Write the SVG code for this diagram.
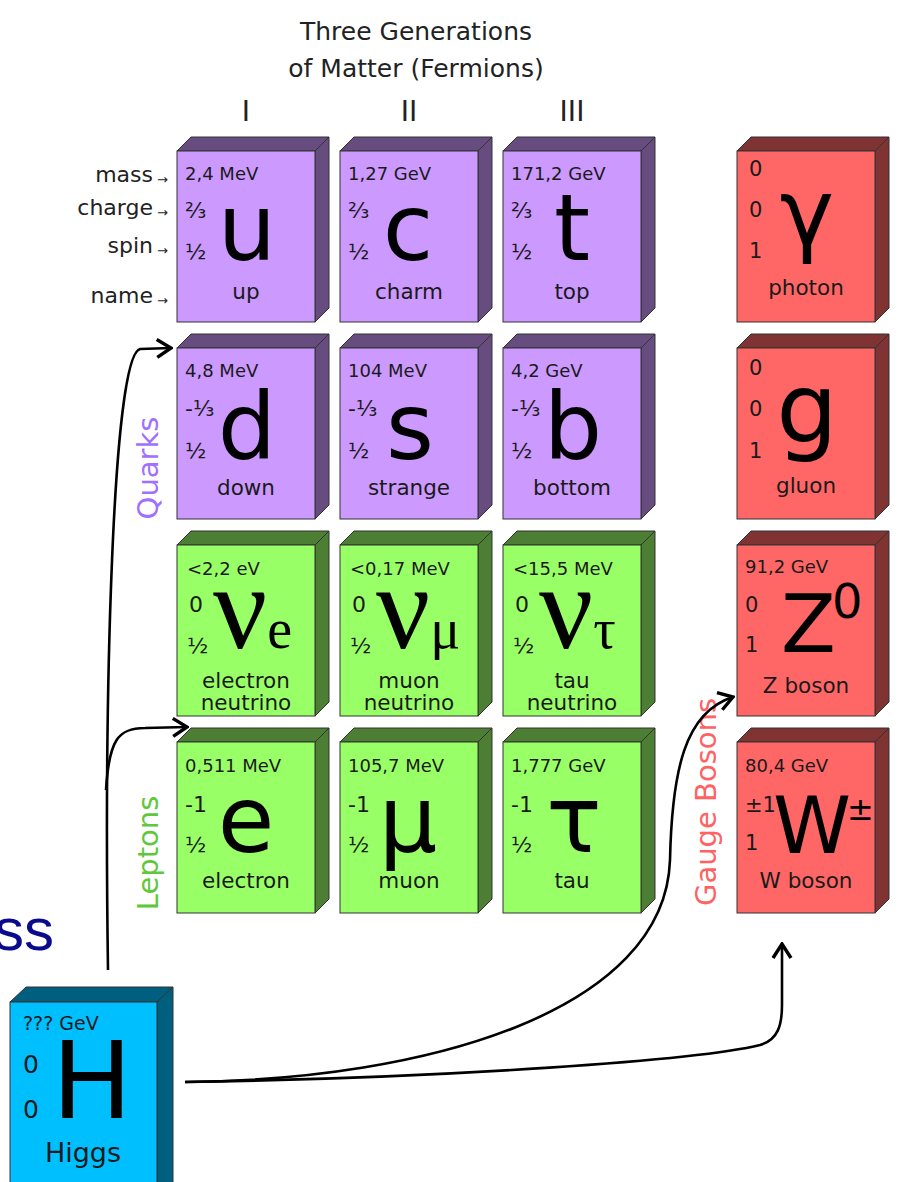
<svg xmlns="http://www.w3.org/2000/svg" width="903" height="1182" viewBox="0 0 903 1182">
<style>
text{font-family:"DejaVu Sans",sans-serif;fill:#1a1a1a}
.edge{stroke:#333;stroke-width:1}
.q use{fill:#CC99FF;color:#664C7F}
.l use{fill:#99FF66;color:#4C7F33}
.b use{fill:#FF6666;color:#7F3333}
.m{font-size:18px}
.c{font-size:22px}
.big{font-size:92px;text-anchor:middle;fill:#000}
.nm{font-size:21.5px;text-anchor:middle}
.nu{font-family:"Liberation Serif",serif;font-size:120px;fill:#000}
.sub{font-family:"Liberation Serif",serif;font-size:56px;fill:#000}
.bn{font-size:21px}
.hdr{font-size:25px;text-anchor:middle;fill:#222}
.rom{font-size:28px;text-anchor:middle;fill:#222}
.lab{font-size:22px;text-anchor:end;fill:#222}
.arw{font-size:13px;fill:#222}
.side{font-size:29px;text-anchor:middle}
.conn{fill:none;stroke:#000;stroke-width:2.6}
</style>
<defs>
<marker id="arr" viewBox="-18 -12 20 24" refX="0" refY="0" markerWidth="20" markerHeight="24" orient="auto" markerUnits="userSpaceOnUse">
<path d="M-14,-9 L0,0 L-14,9" fill="none" stroke="#000" stroke-width="3.4"/>
</marker>
<g id="box">
<polygon class="edge" fill="currentColor" points="0,0 14,-14 152,-14 138,0"/>
<polygon class="edge" fill="currentColor" points="138,0 152,-14 152,157 138,171"/>
<rect class="edge" x="0" y="0" width="138" height="171"/>
</g>
</defs>

<g id="headings">
<text class="hdr" x="416" y="40">Three Generations</text>
<text class="hdr" x="416" y="77">of Matter (Fermions)</text>
<text class="rom" x="246" y="121">I</text>
<text class="rom" x="409" y="121">II</text>
<text class="rom" x="572" y="121">III</text>
<text class="lab" x="153" y="182">mass</text><text class="arw" x="157" y="184">→</text>
<text class="lab" x="153" y="215">charge</text><text class="arw" x="157" y="217">→</text>
<text class="lab" x="153" y="253">spin</text><text class="arw" x="157" y="255">→</text>
<text class="lab" x="153" y="303">name</text><text class="arw" x="157" y="305">→</text>
<text class="side" transform="translate(158,468) rotate(-90)" style="fill:#A070FF">Quarks</text>
<text class="side" transform="translate(158,853) rotate(-90)" style="fill:#5EC83A">Leptons</text>
<text class="side" transform="translate(716,802) rotate(-90)" style="fill:#FF6262">Gauge Bosons</text>
<text x="54" y="950" style="font-family:'Liberation Sans',sans-serif;font-size:60px;fill:#0A0A8C;text-anchor:end">ss</text>
</g>

<g id="up" class="q" transform="translate(177,151)"><use href="#box"/>
<text class="m" x="8" y="29">2,4 MeV</text><text class="c" x="8" y="67">⅔</text><text class="c" x="8" y="108">½</text>
<text class="big" x="70" y="109">u</text><text class="nm" x="69" y="148">up</text></g>
<g id="charm" class="q" transform="translate(340,151)"><use href="#box"/>
<text class="m" x="8" y="29">1,27 GeV</text><text class="c" x="8" y="67">⅔</text><text class="c" x="8" y="108">½</text>
<text class="big" x="68" y="109">c</text><text class="nm" x="69" y="148">charm</text></g>
<g id="top" class="q" transform="translate(503,151)"><use href="#box"/>
<text class="m" x="8" y="29">171,2 GeV</text><text class="c" x="8" y="67">⅔</text><text class="c" x="8" y="108">½</text>
<text class="big" x="69" y="109">t</text><text class="nm" x="69" y="148">top</text></g>

<g id="down" class="q" transform="translate(177,348)"><use href="#box"/>
<text class="m" x="8" y="29">4,8 MeV</text><text class="c" x="8" y="68">-⅓</text><text class="c" x="8" y="110">½</text>
<text class="big" x="70" y="111">d</text><text class="nm" x="69" y="147">down</text></g>
<g id="strange" class="q" transform="translate(340,348)"><use href="#box"/>
<text class="m" x="8" y="29">104 MeV</text><text class="c" x="8" y="68">-⅓</text><text class="c" x="8" y="110">½</text>
<text class="big" x="70" y="111">s</text><text class="nm" x="69" y="147">strange</text></g>
<g id="bottom" class="q" transform="translate(503,348)"><use href="#box"/>
<text class="m" x="8" y="29">4,2 GeV</text><text class="c" x="8" y="68">-⅓</text><text class="c" x="8" y="110">½</text>
<text class="big" x="70" y="111">b</text><text class="nm" x="69" y="147">bottom</text></g>

<g id="electron-neutrino" class="l" transform="translate(177,545)"><use href="#box"/>
<text class="m" x="10" y="30">&lt;2,2 eV</text><text class="c" x="12" y="67">0</text><text class="c" x="10" y="108">½</text>
<text class="nu" x="36" y="103">ν<tspan class="sub">e</tspan></text>
<text class="nm" x="69" y="143">electron</text><text class="nm" x="69" y="165">neutrino</text></g>
<g id="muon-neutrino" class="l" transform="translate(340,545)"><use href="#box"/>
<text class="m" x="10" y="30">&lt;0,17 MeV</text><text class="c" x="12" y="67">0</text><text class="c" x="10" y="108">½</text>
<text class="nu" x="36" y="103">ν<tspan class="sub">μ</tspan></text>
<text class="nm" x="69" y="143">muon</text><text class="nm" x="69" y="165">neutrino</text></g>
<g id="tau-neutrino" class="l" transform="translate(503,545)"><use href="#box"/>
<text class="m" x="10" y="30">&lt;15,5 MeV</text><text class="c" x="12" y="67">0</text><text class="c" x="10" y="108">½</text>
<text class="nu" x="36" y="103">ν<tspan class="sub">τ</tspan></text>
<text class="nm" x="69" y="143">tau</text><text class="nm" x="69" y="165">neutrino</text></g>

<g id="electron" class="l" transform="translate(177,742)"><use href="#box"/>
<text class="m" x="8" y="30">0,511 MeV</text><text class="c" x="8" y="70">-1</text><text class="c" x="8" y="110">½</text>
<text class="big" x="69" y="110">e</text><text class="nm" x="69" y="146">electron</text></g>
<g id="muon" class="l" transform="translate(340,742)"><use href="#box"/>
<text class="m" x="8" y="30">105,7 MeV</text><text class="c" x="8" y="70">-1</text><text class="c" x="8" y="110">½</text>
<text class="big" x="68" y="110">μ</text><text class="nm" x="69" y="146">muon</text></g>
<g id="tau" class="l" transform="translate(503,742)"><use href="#box"/>
<text class="m" x="8" y="30">1,777 GeV</text><text class="c" x="8" y="70">-1</text><text class="c" x="8" y="110">½</text>
<text class="big" x="71" y="110">τ</text><text class="nm" x="69" y="146">tau</text></g>

<g id="photon" class="b" transform="translate(737,151)"><use href="#box"/>
<text class="bn" x="12" y="25">0</text><text class="bn" x="12" y="66">0</text><text class="bn" x="12" y="107">1</text>
<text class="big" x="70" y="94">γ</text><text class="nm" x="69" y="144">photon</text></g>
<g id="gluon" class="b" transform="translate(737,348)"><use href="#box"/>
<text class="bn" x="12" y="27">0</text><text class="bn" x="12" y="68">0</text><text class="bn" x="12" y="110">1</text>
<text class="big" x="70" y="94" style="font-size:97px">g</text><text class="nm" x="69" y="145">gluon</text></g>
<g id="z-boson" class="b" transform="translate(737,545)"><use href="#box"/>
<text class="m" x="8" y="28">91,2 GeV</text><text class="bn" x="8" y="67">0</text><text class="bn" x="8" y="107">1</text>
<text x="44" y="107" style="font-size:80px;fill:#000">Z</text><text x="95" y="73" style="font-size:48px;fill:#000">0</text>
<text class="nm" x="69" y="148">Z boson</text></g>
<g id="w-boson" class="b" transform="translate(737,742)"><use href="#box"/>
<text class="m" x="8" y="30">80,4 GeV</text><text class="bn" x="8" y="70">±1</text><text class="bn" x="8" y="108">1</text>
<text x="36" y="111" style="font-size:79px;fill:#000">W</text><text x="110" y="78" style="font-size:32px;fill:#000">±</text>
<text class="nm" x="69" y="146">W boson</text></g>

<g id="higgs" transform="translate(10,1002)">
<polygon class="edge" fill="#005F7F" points="0,0 16,-15 163,-15 147,0"/>
<polygon class="edge" fill="#005F7F" points="147,0 163,-15 163,185 147,200"/>
<rect class="edge" fill="#00BFFF" x="0" y="0" width="147" height="200"/>
<text x="13" y="28" style="font-size:19px">??? GeV</text>
<text x="13" y="71" style="font-size:25px">0</text><text x="13" y="116" style="font-size:25px">0</text>
<text x="82" y="116" style="font-size:107px;text-anchor:middle;fill:#000">H</text>
<text x="73" y="160" style="font-size:27px;text-anchor:middle">Higgs</text>
</g>

<g id="connectors">
<path class="conn" d="M108,970 C104,700 112,356 140,349 L171,348" marker-end="url(#arr)"/>
<path class="conn" d="M106,790 C109,740 118,728 145,728 L187,727" marker-end="url(#arr)"/>
<path class="conn" d="M185,1082 C430,1080 665,1010 670,860 C672,770 685,712 733,697" marker-end="url(#arr)"/>
<path class="conn" d="M185,1082 C450,1078 700,1060 760,1045 C778,1040 782,1025 782,1005 L782,944" marker-end="url(#arr)"/>
</g>
</svg>
